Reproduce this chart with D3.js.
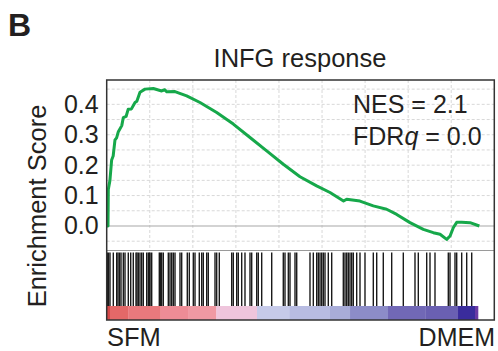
<!DOCTYPE html>
<html>
<head>
<meta charset="utf-8">
<script src="https://cdn.jsdelivr.net/npm/d3@7"></script>
<style>
  body { margin: 0; background: #fff; }
  text { font-family: "Liberation Sans", Arial, sans-serif; fill: #231f20; }
</style>
</head>
<body>
<div id="chart"></div>
<script>
// running enrichment score (rank, ES)
const esRank = [0, 60, 75, 150, 230, 300, 385, 460, 540, 700, 770, 900, 1000, 1150, 1315, 1400, 1546,
  1779, 2165, 2400, 2554, 2700, 2786, 3171, 3714, 4333, 5108, 5880, 6655, 7430, 8202, 8977, 9750,
  10370, 10998, 11145, 11760, 12380, 13000, 13468, 14085, 14704, 15168, 15480, 15790, 15946, 16100,
  16255, 16487, 16873, 17306];
const esValue = [0, 0, 0.12, 0.15, 0.217, 0.23, 0.283, 0.29, 0.31, 0.33, 0.356, 0.36, 0.384, 0.385,
  0.406, 0.41, 0.44, 0.45, 0.452, 0.447, 0.444, 0.448, 0.441, 0.442, 0.428, 0.406, 0.373, 0.335,
  0.291, 0.247, 0.203, 0.162, 0.132, 0.11, 0.082, 0.088, 0.082, 0.066, 0.055, 0.038, 0.011, -0.011,
  -0.022, -0.027, -0.044, -0.033, -0.005, 0.012, 0.012, 0.011, 0];

// gene set hits (rank positions)
const hits = [28, 84, 153, 307, 464, 525, 594, 664, 771, 850, 1003, 1115, 1235, 1361, 1407, 1468,
  1546, 1625, 1700, 1858, 1932, 1988, 2011, 2090, 2443, 2498, 2554, 2629, 2861, 2940, 3019, 3093,
  3172, 3404, 3483, 3743, 3836, 4022, 4101, 4300, 4412, 4486, 4644, 4718, 5030, 5108, 5229, 5805,
  5879, 6037, 6111, 6269, 6422, 6655, 6734, 6966, 7040, 7198, 7663, 8201, 8280, 8434, 8512, 8745,
  8824, 9441, 9595, 9752, 9827, 9906, 9985, 10059, 10138, 10291, 10449, 10988, 11067, 11146, 11220,
  11299, 11378, 11452, 11610, 11763, 11995, 12381, 12539, 12845, 13235, 13774, 14317, 14471, 14861,
  15014, 15246, 15864, 15943, 16175, 16254, 16486, 16718, 16951];

// ranked list metric, in bins (start rank, end rank, metric)
const binStart = [0, 150, 1000, 2500, 3800, 5086, 6980, 8500, 10370, 11300, 13064, 14800, 16315, 17104];
const binEnd = [150, 1000, 2500, 3800, 5086, 6980, 8500, 10370, 11300, 13064, 14800, 16315, 17104, 17243];
const binMetric = [1.0, 0.88, 0.8, 0.7, 0.62, 0.35, -0.2, -0.26, -0.35, -0.5, -0.68, -0.72, -0.95, -1.0];

const yTicks = [0.0, 0.1, 0.2, 0.3, 0.4];
const xGrid = [2000, 4000, 6000, 8000, 10000, 12000, 14000, 16000];
const yGrid = [-0.05, 0.05, 0.1, 0.15, 0.2, 0.25, 0.3, 0.35, 0.4, 0.45];

const W = 498, H = 351;
const plotLeft = 106.7, plotRight = 494.3, plotTop = 80, sep = 250.5, plotBottom = 320;
const barTop = 252.5, stripTop = 306;

const svg = d3.select('#chart').append('svg')
  .attr('width', W)
  .attr('height', H);

const x = d3.scaleLinear().domain([0, 18000]).range([plotLeft, plotRight]);
const y = d3.scaleLinear().domain([-0.0806, 0.48]).range([sep, plotTop]);

const metricColor = d3.scaleLinear()
  .domain([-1, -0.95, -0.7, -0.5, -0.35, -0.26, -0.2, 0.35, 0.6, 0.7, 0.85, 1])
  .range(['#6a3aa4', '#3a2c9c', '#6e64b4', '#8c8cc8', '#a8acd8', '#b8bce2', '#c6cae9',
    '#efc5dc', '#f09ca6', '#ee8c96', '#e77070', '#d64848']);

// grid
svg.append('g')
  .selectAll('line')
  .data(yGrid)
  .join('line')
  .attr('x1', plotLeft).attr('x2', plotRight)
  .attr('y1', d => y(d)).attr('y2', d => y(d))
  .attr('stroke', '#d8d8d8')
  .attr('stroke-dasharray', '3,2');

svg.append('g')
  .selectAll('line')
  .data(xGrid)
  .join('line')
  .attr('x1', d => x(d)).attr('x2', d => x(d))
  .attr('y1', plotTop).attr('y2', sep)
  .attr('stroke', '#d8d8d8')
  .attr('stroke-dasharray', '3,2');

// zero line
svg.append('line')
  .attr('x1', plotLeft).attr('x2', plotRight)
  .attr('y1', y(0)).attr('y2', y(0))
  .attr('stroke', '#a8a8a8')
  .attr('stroke-width', 1.2);

// ES curve
const esData = esRank.map((r, i) => ({ r: r, v: esValue[i] }));
const line = d3.line()
  .x(d => x(d.r))
  .y(d => y(d.v));
svg.append('path')
  .datum(esData)
  .attr('fill', 'none')
  .attr('stroke', '#16a84a')
  .attr('stroke-width', 3)
  .attr('stroke-linejoin', 'round')
  .attr('d', line);

// separator between panels
svg.append('line')
  .attr('x1', plotLeft).attr('x2', plotRight)
  .attr('y1', sep).attr('y2', sep)
  .attr('stroke', '#9a9a9a')
  .attr('stroke-width', 1);

// heatmap strip
svg.append('g')
  .selectAll('rect')
  .data(binMetric)
  .join('rect')
  .attr('x', (d, i) => x(binStart[i]))
  .attr('width', (d, i) => x(binEnd[i]) - x(binStart[i]) + 0.3)
  .attr('y', stripTop)
  .attr('height', plotBottom - stripTop)
  .attr('fill', d => metricColor(d));

// barcode
svg.append('g')
  .selectAll('line')
  .data(hits)
  .join('line')
  .attr('x1', d => x(d)).attr('x2', d => x(d))
  .attr('y1', barTop).attr('y2', stripTop)
  .attr('stroke', '#1a1a1a')
  .attr('stroke-width', 1.4);

// frame
svg.append('rect')
  .attr('x', plotLeft).attr('y', plotTop)
  .attr('width', plotRight - plotLeft).attr('height', plotBottom - plotTop)
  .attr('fill', 'none')
  .attr('stroke', '#333')
  .attr('stroke-width', 1.5);

// y axis
const yAxis = svg.append('g')
  .attr('transform', `translate(${plotLeft}, 0)`)
  .call(d3.axisLeft(y).tickValues(yTicks).tickSize(0).tickPadding(8).tickFormat(d3.format('.1f')));
yAxis.select('.domain').remove();
yAxis.selectAll('text')
  .style('font-size', '25px')
  .attr('font-family', null)
  .attr('fill', '#231f20');

// labels
svg.append('text')
  .attr('x', 8).attr('y', 36)
  .style('font-size', '32px')
  .style('font-weight', 'bold')
  .text('B');

svg.append('text')
  .attr('x', 300).attr('y', 67)
  .attr('text-anchor', 'middle')
  .style('font-size', '25.5px')
  .text('INFG response');

svg.append('text')
  .attr('transform', 'translate(46, 206) rotate(-90)')
  .attr('text-anchor', 'middle')
  .style('font-size', '25.5px')
  .text('Enrichment Score');

svg.append('text')
  .attr('x', 353).attr('y', 113)
  .style('font-size', '25px')
  .text('NES = 2.1');

const fdr = svg.append('text')
  .attr('x', 353).attr('y', 145)
  .style('font-size', '25px');
fdr.append('tspan').text('FDR');
fdr.append('tspan').style('font-style', 'italic').text('q');
fdr.append('tspan').text(' = 0.0');

svg.append('text')
  .attr('x', 107).attr('y', 346)
  .style('font-size', '25.5px')
  .text('SFM');

svg.append('text')
  .attr('x', 495).attr('y', 346)
  .attr('text-anchor', 'end')
  .style('font-size', '25px')
  .text('DMEM');
</script>
</body>
</html>
